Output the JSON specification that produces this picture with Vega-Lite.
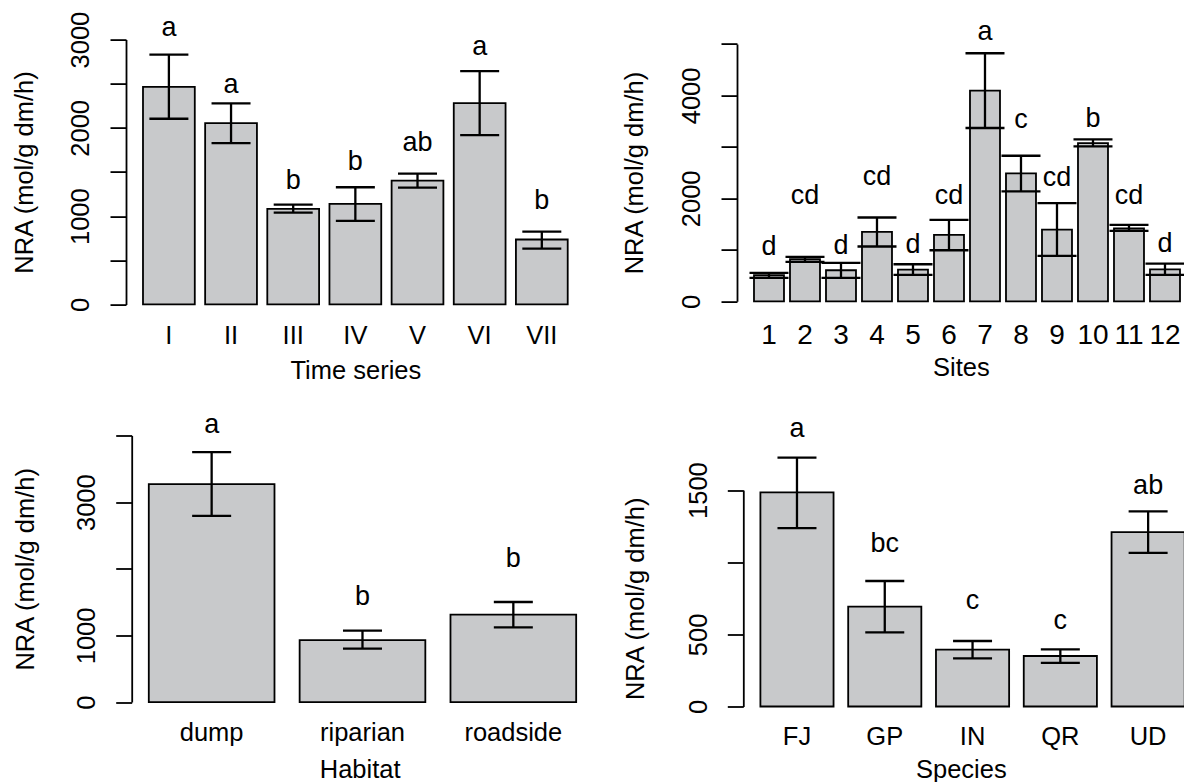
{
  "$schema": "https://vega.github.io/schema/vega-lite/v6.json",
  "padding": {"left": 12, "top": 10.6, "right": 0, "bottom": 0},
  "config": {"view": {"stroke": null}, "font": "Liberation Sans"},
  "datasets": {
    "time": [
      {"series": "I", "mean": 2465, "lo": 2103, "hi": 2830, "letter": "a", "labelY": 3045},
      {"series": "II", "mean": 2054, "lo": 1828, "hi": 2277, "letter": "a", "labelY": 2392},
      {"series": "III", "mean": 1082, "lo": 1040, "hi": 1131, "letter": "b", "labelY": 1309},
      {"series": "IV", "mean": 1138, "lo": 946, "hi": 1327, "letter": "b", "labelY": 1524},
      {"series": "V", "mean": 1402, "lo": 1323, "hi": 1481, "letter": "ab", "labelY": 1743},
      {"series": "VI", "mean": 2280, "lo": 1918, "hi": 2642, "letter": "a", "labelY": 2827},
      {"series": "VII", "mean": 735, "lo": 633, "hi": 825, "letter": "b", "labelY": 1082}
    ],
    "sites": [
      {"site": "1", "mean": 506, "lo": 454, "hi": 551, "letter": "d", "labelY": 901},
      {"site": "2", "mean": 817, "lo": 765, "hi": 862, "letter": "cd", "labelY": 1887},
      {"site": "3", "mean": 603, "lo": 454, "hi": 746, "letter": "d", "labelY": 914},
      {"site": "4", "mean": 1349, "lo": 1064, "hi": 1628, "letter": "cd", "labelY": 2263},
      {"site": "5", "mean": 615, "lo": 512, "hi": 720, "letter": "d", "labelY": 947},
      {"site": "6", "mean": 1290, "lo": 992, "hi": 1582, "letter": "cd", "labelY": 1887},
      {"site": "7", "mean": 4092, "lo": 3366, "hi": 4818, "letter": "a", "labelY": 5078},
      {"site": "8", "mean": 2484, "lo": 2134, "hi": 2827, "letter": "c", "labelY": 3366},
      {"site": "9", "mean": 1394, "lo": 882, "hi": 1907, "letter": "cd", "labelY": 2231},
      {"site": "10", "mean": 3074, "lo": 3009, "hi": 3145, "letter": "b", "labelY": 3379},
      {"site": "11", "mean": 1414, "lo": 1368, "hi": 1485, "letter": "cd", "labelY": 1887},
      {"site": "12", "mean": 620, "lo": 512, "hi": 730, "letter": "d", "labelY": 966}
    ],
    "habitat": [
      {"habitat": "dump", "mean": 3269, "lo": 2793, "hi": 3750, "letter": "a", "labelY": 4030},
      {"habitat": "riparian", "mean": 931, "lo": 801, "hi": 1071, "letter": "b", "labelY": 1462},
      {"habitat": "roadside", "mean": 1312, "lo": 1121, "hi": 1502, "letter": "b", "labelY": 2027}
    ],
    "species": [
      {"species": "FJ", "mean": 1484, "lo": 1236, "hi": 1725, "letter": "a", "labelY": 1871},
      {"species": "GP", "mean": 692, "lo": 514, "hi": 870, "letter": "bc", "labelY": 1072},
      {"species": "IN", "mean": 394, "lo": 333, "hi": 454, "letter": "c", "labelY": 674},
      {"species": "QR", "mean": 350, "lo": 303, "hi": 396, "letter": "c", "labelY": 539},
      {"species": "UD", "mean": 1208, "lo": 1065, "hi": 1352, "letter": "ab", "labelY": 1470}
    ]
  },
  "columns": 2,
  "bounds": "flush",
  "spacing": {"column": 143, "row": 130.9},
  "concat": [
    {
      "width": 458.7, "height": 264.8,
      "data": {"name": "time"},
      "encoding": {
        "x": {"field": "series", "type": "nominal", "sort": null,
          "scale": {"paddingInner": 0.1667, "paddingOuter": 0.2733},
          "axis": {"title": "Time series", "labelAngle": 0, "domain": false, "ticks": false, "tickSize": 0, "labelPadding": 39, "labelBaseline": "alphabetic", "labelFontSize": 25.5, "labelColor": "black", "labelOverlap": false, "titleFontSize": 25.5, "titleFontWeight": "normal", "titleColor": "black", "titleBaseline": "alphabetic", "titlePadding": 29.5}}
      },
      "layer": [
        {"mark": {"type": "bar", "fill": "#c8c9cb", "stroke": "black", "strokeWidth": 1.8},
         "encoding": {"y": {"field": "mean", "type": "quantitative", "title": "NRA (mol/g dm/h)",
           "scale": {"domain": [0, 3000], "nice": false},
           "axis": {"values": [0, 500, 1000, 1500, 2000, 2500, 3000], "labelExpr": "datum.value == 0 || datum.value == 1000 || datum.value == 2000 || datum.value == 3000 ? datum.label : ''", "format": "d", "tickSize": 16, "tickWidth": 1.8, "tickColor": "black", "domainColor": "black", "domainWidth": 1.8, "labelAngle": 270, "labelAlign": "center", "labelBaseline": "alphabetic", "labelPadding": 22, "labelFontSize": 25.5, "labelColor": "black", "labelFlush": false, "labelOverlap": false, "grid": false, "titleFontSize": 25.5, "titleFontWeight": "normal", "titleColor": "black", "titlePadding": 31}}}},
        {"mark": {"type": "rule", "color": "black", "strokeWidth": 2.3},
         "encoding": {"y": {"field": "lo", "type": "quantitative", "title": "NRA (mol/g dm/h)"}, "y2": {"field": "hi"}}},
        {"mark": {"type": "tick", "orient": "horizontal", "size": 39, "thickness": 2.3, "color": "black", "opacity": 1},
         "encoding": {"y": {"field": "lo", "type": "quantitative", "title": "NRA (mol/g dm/h)"}}},
        {"mark": {"type": "tick", "orient": "horizontal", "size": 39, "thickness": 2.3, "color": "black", "opacity": 1},
         "encoding": {"y": {"field": "hi", "type": "quantitative", "title": "NRA (mol/g dm/h)"}}},
        {"mark": {"type": "text", "fontSize": 27, "baseline": "alphabetic", "align": "center", "color": "black"},
         "encoding": {"y": {"field": "labelY", "type": "quantitative", "title": "NRA (mol/g dm/h)"}, "text": {"field": "letter"}}}
      ]
    },
    {
      "width": 447.7, "height": 261.7,
      "data": {"name": "sites"},
      "encoding": {
        "x": {"field": "site", "type": "nominal", "sort": null,
          "scale": {"paddingInner": 0.1667, "paddingOuter": 0.3014, "align": 0.783},
          "axis": {"title": "Sites", "labelAngle": 0, "domain": false, "ticks": false, "tickSize": 0, "labelPadding": 42, "labelBaseline": "alphabetic", "labelFontSize": 28, "labelColor": "black", "labelOverlap": false, "titleFontSize": 25.5, "titleFontWeight": "normal", "titleColor": "black", "titleBaseline": "alphabetic", "titlePadding": 26}}
      },
      "layer": [
        {"mark": {"type": "bar", "fill": "#c8c9cb", "stroke": "black", "strokeWidth": 1.8},
         "encoding": {"y": {"field": "mean", "type": "quantitative", "title": "NRA (mol/g dm/h)",
           "scale": {"domain": [0, 5000], "nice": false, "range": [261.7, 4.3]},
           "axis": {"values": [0, 1000, 2000, 3000, 4000, 5000], "labelExpr": "datum.value == 0 || datum.value == 2000 || datum.value == 4000 ? datum.label : ''", "format": "d", "tickSize": 16, "tickWidth": 1.8, "tickColor": "black", "domainColor": "black", "domainWidth": 1.8, "labelAngle": 270, "labelAlign": "center", "labelBaseline": "alphabetic", "labelPadding": 21, "labelFontSize": 25.5, "labelColor": "black", "labelFlush": false, "labelOverlap": false, "grid": false, "titleFontSize": 25.5, "titleFontWeight": "normal", "titleColor": "black", "titlePadding": 32}}}},
        {"mark": {"type": "rule", "color": "black", "strokeWidth": 2.3},
         "encoding": {"y": {"field": "lo", "type": "quantitative", "title": "NRA (mol/g dm/h)"}, "y2": {"field": "hi"}}},
        {"mark": {"type": "tick", "orient": "horizontal", "size": 39, "thickness": 2.3, "color": "black", "opacity": 1},
         "encoding": {"y": {"field": "lo", "type": "quantitative", "title": "NRA (mol/g dm/h)"}}},
        {"mark": {"type": "tick", "orient": "horizontal", "size": 39, "thickness": 2.3, "color": "black", "opacity": 1},
         "encoding": {"y": {"field": "hi", "type": "quantitative", "title": "NRA (mol/g dm/h)"}}},
        {"mark": {"type": "text", "fontSize": 27, "baseline": "alphabetic", "align": "center", "color": "black"},
         "encoding": {"y": {"field": "labelY", "type": "quantitative", "title": "NRA (mol/g dm/h)"}, "text": {"field": "letter"}}}
      ]
    },
    {
      "width": 467.3, "height": 266.6,
      "data": {"name": "habitat"},
      "encoding": {
        "x": {"field": "habitat", "type": "nominal", "sort": null,
          "scale": {"paddingInner": 0.1667, "paddingOuter": 0.1323, "align": 0.571},
          "axis": {"title": "Habitat", "labelAngle": 0, "domain": false, "ticks": false, "tickSize": 0, "labelPadding": 38.7, "labelBaseline": "alphabetic", "labelFontSize": 25.5, "labelColor": "black", "labelOverlap": false, "titleFontSize": 25.5, "titleFontWeight": "normal", "titleColor": "black", "titleBaseline": "alphabetic", "titlePadding": 31}}
      },
      "layer": [
        {"mark": {"type": "bar", "fill": "#c8c9cb", "stroke": "black", "strokeWidth": 1.8},
         "encoding": {"y": {"field": "mean", "type": "quantitative", "title": "NRA (mol/g dm/h)",
           "scale": {"domain": [0, 4000], "nice": false},
           "axis": {"offset": -5.7, "values": [0, 1000, 2000, 3000, 4000], "labelExpr": "datum.value == 0 || datum.value == 1000 || datum.value == 3000 ? datum.label : ''", "format": "d", "tickSize": 16, "tickWidth": 1.8, "tickColor": "black", "domainColor": "black", "domainWidth": 1.8, "labelAngle": 270, "labelAlign": "center", "labelBaseline": "alphabetic", "labelPadding": 21, "labelFontSize": 25.5, "labelColor": "black", "labelFlush": false, "labelOverlap": false, "grid": false, "titleFontSize": 25.5, "titleFontWeight": "normal", "titleColor": "black", "titlePadding": 36.7}}}},
        {"mark": {"type": "rule", "color": "black", "strokeWidth": 2.3},
         "encoding": {"y": {"field": "lo", "type": "quantitative", "title": "NRA (mol/g dm/h)"}, "y2": {"field": "hi"}}},
        {"mark": {"type": "tick", "orient": "horizontal", "size": 39, "thickness": 2.3, "color": "black", "opacity": 1},
         "encoding": {"y": {"field": "lo", "type": "quantitative", "title": "NRA (mol/g dm/h)"}}},
        {"mark": {"type": "tick", "orient": "horizontal", "size": 39, "thickness": 2.3, "color": "black", "opacity": 1},
         "encoding": {"y": {"field": "hi", "type": "quantitative", "title": "NRA (mol/g dm/h)"}}},
        {"mark": {"type": "text", "fontSize": 27, "baseline": "alphabetic", "align": "center", "color": "black"},
         "encoding": {"y": {"field": "labelY", "type": "quantitative", "title": "NRA (mol/g dm/h)"}, "text": {"field": "letter"}}}
      ]
    },
    {
      "width": 447.7, "height": 271,
      "data": {"name": "species"},
      "encoding": {
        "x": {"field": "species", "type": "nominal", "sort": null,
          "scale": {"paddingInner": 0.1667, "paddingOuter": 0.1333, "align": 1},
          "axis": {"title": "Species", "labelAngle": 0, "domain": false, "ticks": false, "tickSize": 0, "labelPadding": 38.3, "labelBaseline": "alphabetic", "labelFontSize": 25.5, "labelColor": "black", "labelOverlap": false, "titleFontSize": 25.5, "titleFontWeight": "normal", "titleColor": "black", "titleBaseline": "alphabetic", "titlePadding": 27}}
      },
      "layer": [
        {"mark": {"type": "bar", "fill": "#c8c9cb", "stroke": "black", "strokeWidth": 1.8},
         "encoding": {"y": {"field": "mean", "type": "quantitative", "title": "NRA (mol/g dm/h)",
           "scale": {"domain": [0, 1500], "nice": false, "range": [271, 54.6]},
           "axis": {"offset": -6.3, "values": [0, 500, 1000, 1500], "labelExpr": "datum.value == 0 || datum.value == 500 || datum.value == 1500 ? datum.label : ''", "format": "d", "tickSize": 16, "tickWidth": 1.8, "tickColor": "black", "domainColor": "black", "domainWidth": 1.8, "labelAngle": 270, "labelAlign": "center", "labelBaseline": "alphabetic", "labelPadding": 21, "labelFontSize": 25.5, "labelColor": "black", "labelFlush": false, "labelOverlap": false, "grid": false, "titleFontSize": 25.5, "titleFontWeight": "normal", "titleColor": "black", "titlePadding": 38}}}},
        {"mark": {"type": "rule", "color": "black", "strokeWidth": 2.3},
         "encoding": {"y": {"field": "lo", "type": "quantitative", "title": "NRA (mol/g dm/h)"}, "y2": {"field": "hi"}}},
        {"mark": {"type": "tick", "orient": "horizontal", "size": 39, "thickness": 2.3, "color": "black", "opacity": 1},
         "encoding": {"y": {"field": "lo", "type": "quantitative", "title": "NRA (mol/g dm/h)"}}},
        {"mark": {"type": "tick", "orient": "horizontal", "size": 39, "thickness": 2.3, "color": "black", "opacity": 1},
         "encoding": {"y": {"field": "hi", "type": "quantitative", "title": "NRA (mol/g dm/h)"}}},
        {"mark": {"type": "text", "fontSize": 27, "baseline": "alphabetic", "align": "center", "color": "black"},
         "encoding": {"y": {"field": "labelY", "type": "quantitative", "title": "NRA (mol/g dm/h)"}, "text": {"field": "letter"}}}
      ]
    }
  ]
}
